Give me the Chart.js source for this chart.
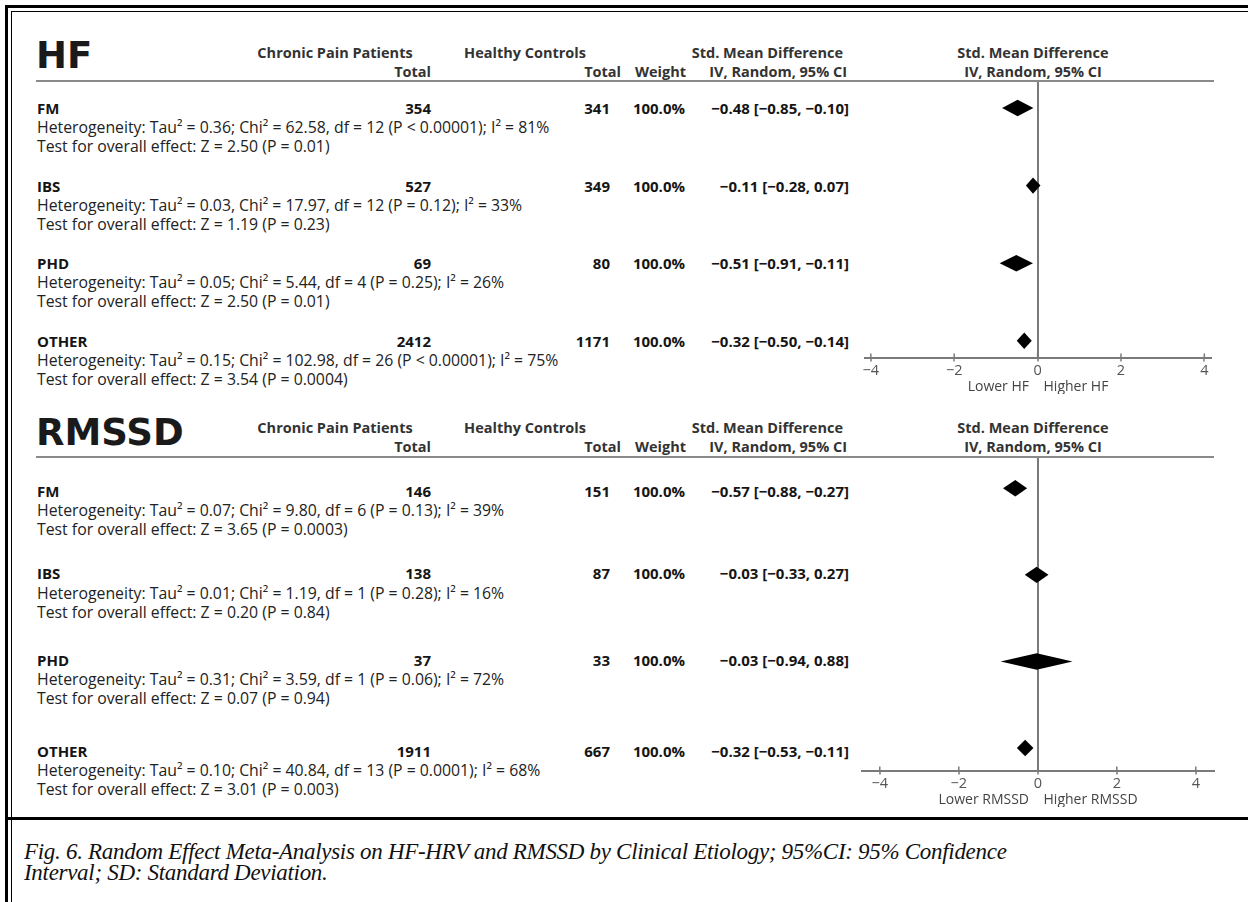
<!DOCTYPE html>
<html>
<head>
<meta charset="utf-8">
<script src="https://cdn.jsdelivr.net/npm/chart.js@4.4.1/dist/chart.umd.min.js"></script>
<style>
  html, body { margin: 0; padding: 0; background: #fff; }
  #page { position: relative; width: 1248px; height: 902px; overflow: hidden; background: #fff;
          font-family: "Open Sans", sans-serif; color: #222; }
  .rule { position: absolute; background: #000; }
  .hline { position: absolute; background: #8a8a8a; height: 2px; }
  .t { position: absolute; white-space: pre; line-height: 1; font-size: 15.8px; color: #222; }
  .b { font-weight: 700; font-size: 15px; color: #151515; }
  .hd { font-weight: 700; font-size: 14.5px; color: #333; }
  .title { font-family: "DejaVu Sans", sans-serif; font-weight: 700; font-size: 37px; color: #1a1a1a; }
  .cap { font-family: "Liberation Serif", serif; font-style: italic; font-size: 23px;
         letter-spacing: -0.3px; color: #111; }
  canvas { position: absolute; }
</style>
</head>
<body>
<div id="page">
  <div class="rule" style="left:5px;top:5px;right:0;height:3px"></div>
  <div class="rule" style="left:11px;top:11px;right:0;height:1px"></div>
  <div class="rule" style="left:5px;top:5px;bottom:0;width:3px"></div>
  <div class="rule" style="left:11px;top:11px;bottom:0;width:1px"></div>
  <div class="rule" style="left:5px;top:817px;right:0;height:3px"></div>
  <canvas id="hfChart"></canvas>
  <canvas id="rmssdChart"></canvas>
</div>
<script>
// ---- HF-HRV subgroup results ----
const HF_GROUPS = ['FM', 'IBS', 'PHD', 'OTHER'];
const HF_PAIN_TOTAL = [354, 527, 69, 2412];
const HF_CONTROL_TOTAL = [341, 349, 80, 1171];
const HF_WEIGHT = [100.0, 100.0, 100.0, 100.0];
const HF_SMD = [-0.48, -0.11, -0.51, -0.32];
const HF_CI_LOW = [-0.85, -0.28, -0.91, -0.50];
const HF_CI_HIGH = [-0.10, 0.07, -0.11, -0.14];
const HF_HETEROGENEITY = [
  'Tau² = 0.36; Chi² = 62.58, df = 12 (P < 0.00001); I² = 81%',
  'Tau² = 0.03, Chi² = 17.97, df = 12 (P = 0.12); I² = 33%',
  'Tau² = 0.05; Chi² = 5.44, df = 4 (P = 0.25); I² = 26%',
  'Tau² = 0.15; Chi² = 102.98, df = 26 (P < 0.00001); I² = 75%'
];
const HF_OVERALL = ['Z = 2.50 (P = 0.01)', 'Z = 1.19 (P = 0.23)', 'Z = 2.50 (P = 0.01)', 'Z = 3.54 (P = 0.0004)'];

// ---- RMSSD subgroup results ----
const RMSSD_GROUPS = ['FM', 'IBS', 'PHD', 'OTHER'];
const RMSSD_PAIN_TOTAL = [146, 138, 37, 1911];
const RMSSD_CONTROL_TOTAL = [151, 87, 33, 667];
const RMSSD_WEIGHT = [100.0, 100.0, 100.0, 100.0];
const RMSSD_SMD = [-0.57, -0.03, -0.03, -0.32];
const RMSSD_CI_LOW = [-0.88, -0.33, -0.94, -0.53];
const RMSSD_CI_HIGH = [-0.27, 0.27, 0.88, -0.11];
const RMSSD_HETEROGENEITY = [
  'Tau² = 0.07; Chi² = 9.80, df = 6 (P = 0.13); I² = 39%',
  'Tau² = 0.01; Chi² = 1.19, df = 1 (P = 0.28); I² = 16%',
  'Tau² = 0.31; Chi² = 3.59, df = 1 (P = 0.06); I² = 72%',
  'Tau² = 0.10; Chi² = 40.84, df = 13 (P = 0.0001); I² = 68%'
];
const RMSSD_OVERALL = ['Z = 3.65 (P = 0.0003)', 'Z = 0.20 (P = 0.84)', 'Z = 0.07 (P = 0.94)', 'Z = 3.01 (P = 0.003)'];

// ---- shared axis ticks and captions ----
const X_TICKS = [-4, -2, 0, 2, 4];
const HF_AXIS_TITLE = 'Lower HF    Higher HF';
const RMSSD_AXIS_TITLE = 'Lower RMSSD    Higher RMSSD';
const CAPTION = [
  'Fig. 6. Random Effect Meta-Analysis on HF-HRV and RMSSD by Clinical Etiology; 95%CI: 95% Confidence',
  'Interval; SD: Standard Deviation.'
];

const page = document.getElementById('page');
const signed = v => (v < 0 ? '\u2212' : '') + Math.abs(v).toFixed(2);
const tickText = v => (v < 0 ? '\u2212' + Math.abs(v) : String(v));

function put(text, x, y, cls, align) {
  const el = document.createElement('div');
  el.className = 't ' + (cls || '');
  el.textContent = text;
  el.style.left = x + 'px';
  el.style.top = y + 'px';
  const dx = align === 'right' ? '-100%' : align === 'center' ? '-50%' : '0';
  el.style.transform = 'translate(' + dx + ',-50%)';
  page.appendChild(el);
  return el;
}

function hline(x1, x2, y) {
  const el = document.createElement('div');
  el.className = 'hline';
  el.style.left = x1 + 'px';
  el.style.width = (x2 - x1) + 'px';
  el.style.top = (y - 1) + 'px';
  page.appendChild(el);
}

// table block: title, column headers, subgroup rows
function table(L) {
  put(L.name, 36, L.titleY, 'title', 'left');
  put('Chronic Pain Patients', 335, L.head1, 'hd', 'center');
  put('Healthy Controls', 525, L.head1, 'hd', 'center');
  put('Std. Mean Difference', 843, L.head1, 'hd', 'right');
  put('Std. Mean Difference', 1033, L.head1, 'hd', 'center');
  put('Total', 431, L.head2, 'hd', 'right');
  put('Total', 621, L.head2, 'hd', 'right');
  put('Weight', 686, L.head2, 'hd', 'right');
  put('IV, Random, 95% CI', 847, L.head2, 'hd', 'right');
  put('IV, Random, 95% CI', 1033, L.head2, 'hd', 'center');
  hline(36, 1214, L.lineY);
  L.groups.forEach((g, i) => {
    const y = L.rows[i];
    put(g, 37, y, 'b', 'left');
    put(String(L.pain[i]), 431, y, 'b', 'right');
    put(String(L.control[i]), 610, y, 'b', 'right');
    put(L.weight[i].toFixed(1) + '%', 685, y, 'b', 'right');
    put(signed(L.smd[i]) + ' [' + signed(L.lo[i]) + ', ' + signed(L.hi[i]) + ']', 849, y, 'b', 'right');
    put('Heterogeneity: ' + L.het[i], 37, y + L.hetDy, '', 'left');
    put('Test for overall effect: ' + L.overall[i], 37, y + L.testDy, '', 'left');
  });
}

// tick marks above the axis line, so each tick crosses it
const crossTicks = {
  id: 'crossTicks',
  afterDraw(chart) {
    const s = chart.scales.x, ctx = chart.ctx, y = chart.chartArea.bottom;
    ctx.save();
    ctx.strokeStyle = '#7a7a7a';
    ctx.lineWidth = 1.5;
    s.ticks.forEach(t => {
      const x = s.getPixelForValue(t.value);
      ctx.beginPath(); ctx.moveTo(x, y - 4); ctx.lineTo(x, y); ctx.stroke();
    });
    ctx.restore();
  }
};

// forest panel: summary diamonds drawn as filled polygons on linear scales
function forest(id, F) {
  const cv = document.getElementById(id);
  cv.width = F.width; cv.height = F.height;
  cv.style.left = F.left + 'px'; cv.style.top = F.top + 'px';
  cv.style.width = F.width + 'px'; cv.style.height = F.height + 'px';
  const h = F.halfPx / F.rowPx;
  const datasets = F.smd.map((m, i) => ({
    data: [
      { x: F.lo[i], y: i }, { x: m, y: i - h }, { x: F.hi[i], y: i },
      { x: m, y: i + h }, { x: F.lo[i], y: i }
    ],
    showLine: true, fill: 'shape', tension: 0,
    backgroundColor: '#000', borderColor: 'rgba(0,0,0,0)', borderWidth: 0,
    pointRadius: 0, pointHoverRadius: 0
  }));
  new Chart(cv, {
    type: 'scatter',
    data: { datasets },
    options: {
      responsive: false, animation: false, events: [],
      layout: { padding: { left: 12, right: 12, top: 0, bottom: 0 } },
      plugins: { legend: { display: false }, tooltip: { enabled: false } },
      scales: {
        x: {
          type: 'linear', min: F.xMin, max: F.xMax,
          afterBuildTicks: s => { s.ticks = X_TICKS.map(v => ({ value: v })); },
          grid: {
            drawOnChartArea: true,
            color: c => (c.tick && c.tick.value === 0 ? '#7a7a7a' : 'rgba(0,0,0,0)'),
            lineWidth: 2, tickLength: 4, tickColor: '#7a7a7a', tickWidth: 1.5
          },
          border: { display: true, color: '#7a7a7a', width: 2 },
          ticks: { padding: 2, color: '#555', maxRotation: 0,
                   font: { family: 'Open Sans', size: 14.5, lineHeight: 1 },
                   callback: v => tickText(v) },
          title: { display: true, text: F.title, color: '#444',
                   font: { family: 'Open Sans', size: 14, lineHeight: 1 },
                   padding: { top: 0, bottom: 0 } }
        },
        y: { type: 'linear', display: false, reverse: true, min: F.yMin, max: F.yMax }
      }
    },
    plugins: [crossTicks]
  });
}

table({
  name: 'HF', titleY: 55, head1: 52.5, head2: 72, lineY: 81,
  rows: [108, 185.6, 263.2, 340.8], hetDy: 20, testDy: 39,
  groups: HF_GROUPS, pain: HF_PAIN_TOTAL, control: HF_CONTROL_TOTAL, weight: HF_WEIGHT,
  smd: HF_SMD, lo: HF_CI_LOW, hi: HF_CI_HIGH, het: HF_HETEROGENEITY, overall: HF_OVERALL
});
table({
  name: 'RMSSD', titleY: 431.5, head1: 428.3, head2: 447, lineY: 457,
  rows: [490.5, 573, 659.5, 750.5], hetDy: 20.5, testDy: 39.5,
  groups: RMSSD_GROUPS, pain: RMSSD_PAIN_TOTAL, control: RMSSD_CONTROL_TOTAL, weight: RMSSD_WEIGHT,
  smd: RMSSD_SMD, lo: RMSSD_CI_LOW, hi: RMSSD_CI_HIGH, het: RMSSD_HETEROGENEITY, overall: RMSSD_OVERALL
});

// HF panel: 41.7 px per unit, zero at x = 1037.7, axis line at y = 357.5
forest('hfChart', {
  left: 853, top: 81, width: 370, height: 313,
  xMin: -4.14, xMax: 4.16, yMin: -0.348, yMax: 3.215, rowPx: 77.6, halfPx: 8.2,
  smd: HF_SMD, lo: HF_CI_LOW, hi: HF_CI_HIGH, title: HF_AXIS_TITLE
});
// RMSSD panel: 39.5 px per unit, axis line at y = 770.5
forest('rmssdChart', {
  left: 850, top: 457, width: 376, height: 350,
  xMin: -4.45, xMax: 4.46, yMin: -0.361, yMax: 3.259, rowPx: 86.6, halfPx: 8.2,
  smd: RMSSD_SMD, lo: RMSSD_CI_LOW, hi: RMSSD_CI_HIGH, title: RMSSD_AXIS_TITLE
});

// figure caption
put(CAPTION[0], 24, 851, 'cap', 'left');
put(CAPTION[1], 24, 872, 'cap', 'left');
</script>
</body>
</html>
